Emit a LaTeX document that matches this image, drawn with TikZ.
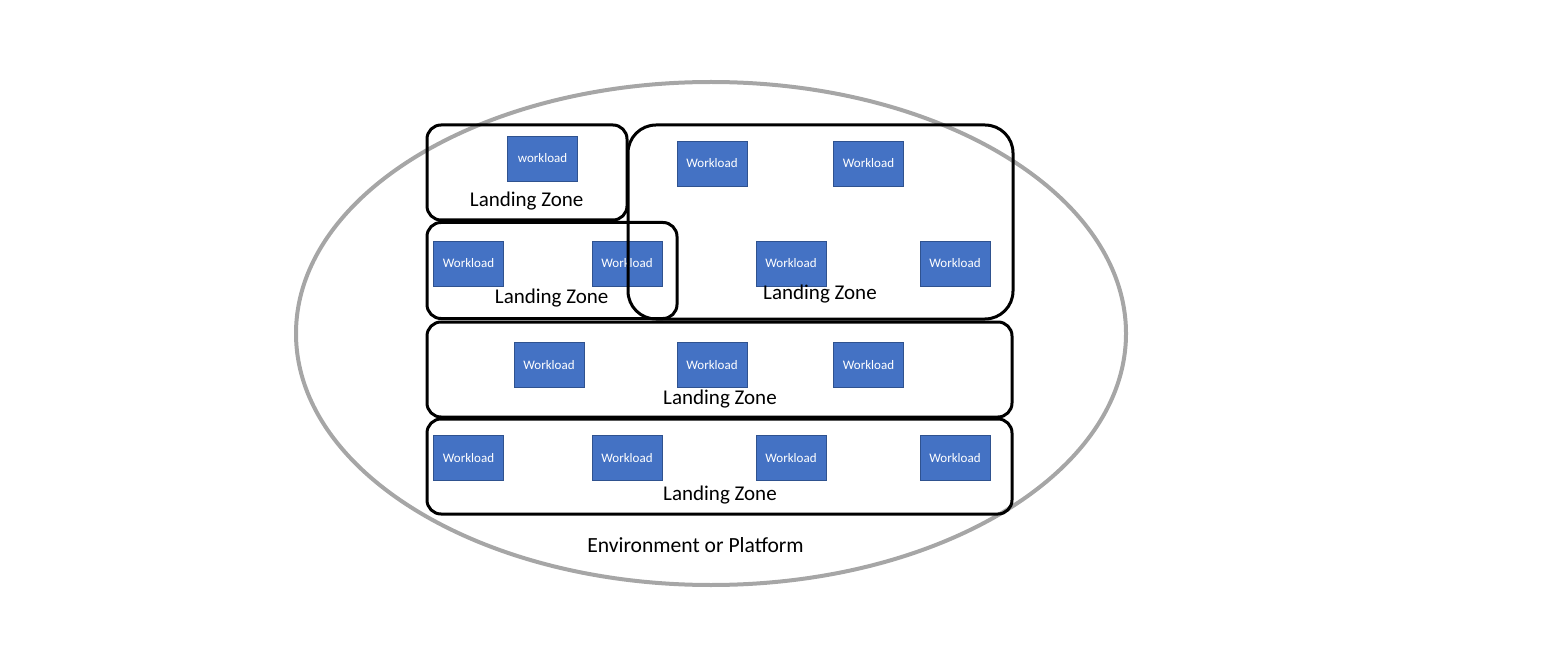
\documentclass[tikz,border=0pt]{standalone}
\usepackage{fontspec}
\setmainfont{Carlito}
\definecolor{wlfill}{HTML}{4472C4}
\definecolor{wlline}{HTML}{2F528F}
\definecolor{envgray}{HTML}{A6A6A6}
\tikzset{
  wl/.style={draw=wlline, line width=0.8pt, fill=wlfill, minimum width=70pt, minimum height=45pt, inner sep=0pt, text=white, font=\fontsize{13pt}{15pt}\selectfont},
  lz/.style={draw=black, line width=3pt, rounded corners=14pt, inner sep=0pt},
  lzbig/.style={lz, rounded corners=28pt},
  lzlabel/.style={anchor=base, inner sep=0pt, font=\fontsize{21pt}{25pt}\selectfont},
  env/.style={draw=envgray, line width=4pt, ellipse, inner sep=0pt}
}
\usetikzlibrary{shapes.geometric}
\begin{document}
\begin{tikzpicture}[x=1pt,y=-1pt]
\useasboundingbox (0,0) rectangle (1547,652);
% environment
\node[env, minimum width=830pt, minimum height=503pt] (envel) at (711,333.5) {};
\node[lzlabel, font=\fontsize{21.6pt}{25pt}\selectfont] (envlab) at (695.5,552) {Environment or Platform};
% workloads
\node[wl] (w1) at (542.5,158.5) {workload};
\node[wl] (w2a) at (468.5,263.5) {Workload};
\node[wl] (w2b) at (627,263.5) {Workload};
\node[wl] (w3a) at (712,163.5) {Workload};
\node[wl] (w3b) at (868.5,163.5) {Workload};
\node[wl] (w3c) at (791,263.5) {Workload};
\node[wl] (w3d) at (955,263.5) {Workload};
\node[wl] (w4a) at (549,365) {Workload};
\node[wl] (w4b) at (712,365) {Workload};
\node[wl] (w4c) at (868.5,365) {Workload};
\node[wl] (w5a) at (468.5,458) {Workload};
\node[wl] (w5b) at (627,458) {Workload};
\node[wl] (w5c) at (791,458) {Workload};
\node[wl] (w5d) at (955,458) {Workload};
% landing zones
\node[lz, minimum width=200pt, minimum height=95pt] (lz1) at (527,172.5) {};
\node[lz, minimum width=250pt, minimum height=96pt] (lz2) at (552,270.5) {};
\node[lzbig, minimum width=385pt, minimum height=194pt] (lz3) at (820.5,222) {};
\node[lz, minimum width=585pt, minimum height=95pt] (lz4) at (719.5,369.5) {};
\node[lz, minimum width=585pt, minimum height=95pt] (lz5) at (719.5,466.5) {};
% labels
\node[lzlabel] (l1) at (526.7,206.7) {Landing Zone};
\node[lzlabel] (l2) at (551.7,304) {Landing Zone};
\node[lzlabel] (l3) at (820,300) {Landing Zone};
\node[lzlabel] (l4) at (720,404) {Landing Zone};
\node[lzlabel] (l5) at (720,500) {Landing Zone};
\end{tikzpicture}
\end{document}
